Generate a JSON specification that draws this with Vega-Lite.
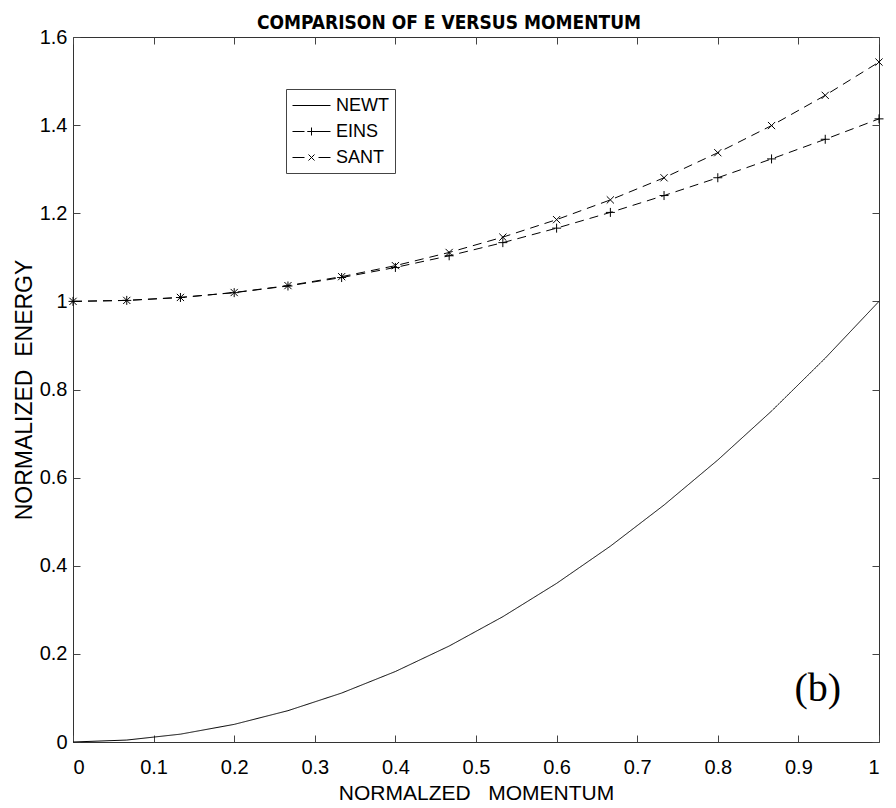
{
  "$schema": "https://vega.github.io/schema/vega-lite/v6.json",
  "width": 806,
  "height": 705,
  "autosize": "none",
  "padding": {"left": 73, "top": 37, "right": 17, "bottom": 66},
  "background": "white",
  "title": {
    "text": "COMPARISON  OF  E  VERSUS  MOMENTUM",
    "font": "Liberation Sans Narrow, DejaVu Sans Condensed, sans-serif",
    "fontWeight": "bold",
    "fontSize": 19,
    "color": "#000",
    "anchor": "middle",
    "dx": -27,
    "offset": -6
  },
  "config": {
    "view": {"stroke": "#333", "strokeWidth": 1},
    "axis": {
      "grid": false,
      "domain": false,
      "tickSize": -7,
      "tickColor": "#444",
      "labelFont": "Liberation Sans",
      "labelFontSize": 20,
      "labelColor": "#000",
      "titleFont": "Liberation Sans",
      "titleFontWeight": "normal",
      "titleColor": "#000"
    }
  },
  "data": {
    "values": [
      {"p": 0, "s": "NEWT", "E": 0},
      {"p": 0.0667, "s": "NEWT", "E": 0.0044},
      {"p": 0.1333, "s": "NEWT", "E": 0.0178},
      {"p": 0.2, "s": "NEWT", "E": 0.04},
      {"p": 0.2667, "s": "NEWT", "E": 0.0711},
      {"p": 0.3333, "s": "NEWT", "E": 0.1111},
      {"p": 0.4, "s": "NEWT", "E": 0.16},
      {"p": 0.4667, "s": "NEWT", "E": 0.2178},
      {"p": 0.5333, "s": "NEWT", "E": 0.2844},
      {"p": 0.6, "s": "NEWT", "E": 0.36},
      {"p": 0.6667, "s": "NEWT", "E": 0.4444},
      {"p": 0.7333, "s": "NEWT", "E": 0.5378},
      {"p": 0.8, "s": "NEWT", "E": 0.64},
      {"p": 0.8667, "s": "NEWT", "E": 0.7511},
      {"p": 0.9333, "s": "NEWT", "E": 0.8711},
      {"p": 1, "s": "NEWT", "E": 1},
      {"p": 0, "s": "EINS", "E": 1},
      {"p": 0.0667, "s": "EINS", "E": 1.0022},
      {"p": 0.1333, "s": "EINS", "E": 1.0088},
      {"p": 0.2, "s": "EINS", "E": 1.0198},
      {"p": 0.2667, "s": "EINS", "E": 1.0349},
      {"p": 0.3333, "s": "EINS", "E": 1.0541},
      {"p": 0.4, "s": "EINS", "E": 1.077},
      {"p": 0.4667, "s": "EINS", "E": 1.1035},
      {"p": 0.5333, "s": "EINS", "E": 1.1333},
      {"p": 0.6, "s": "EINS", "E": 1.1662},
      {"p": 0.6667, "s": "EINS", "E": 1.2019},
      {"p": 0.7333, "s": "EINS", "E": 1.2402},
      {"p": 0.8, "s": "EINS", "E": 1.2806},
      {"p": 0.8667, "s": "EINS", "E": 1.3233},
      {"p": 0.9333, "s": "EINS", "E": 1.3679},
      {"p": 1, "s": "EINS", "E": 1.4142},
      {"p": 0, "s": "SANT", "E": 1},
      {"p": 0.0667, "s": "SANT", "E": 1.0022},
      {"p": 0.1333, "s": "SANT", "E": 1.0089},
      {"p": 0.2, "s": "SANT", "E": 1.0201},
      {"p": 0.2667, "s": "SANT", "E": 1.0358},
      {"p": 0.3333, "s": "SANT", "E": 1.0561},
      {"p": 0.4, "s": "SANT", "E": 1.0811},
      {"p": 0.4667, "s": "SANT", "E": 1.111},
      {"p": 0.5333, "s": "SANT", "E": 1.1458},
      {"p": 0.6, "s": "SANT", "E": 1.1855},
      {"p": 0.6667, "s": "SANT", "E": 1.2303},
      {"p": 0.7333, "s": "SANT", "E": 1.2805},
      {"p": 0.8, "s": "SANT", "E": 1.3374},
      {"p": 0.8667, "s": "SANT", "E": 1.399},
      {"p": 0.9333, "s": "SANT", "E": 1.4676},
      {"p": 1, "s": "SANT", "E": 1.5431}
    ]
  },
  "resolve": {
    "axis": {"x": "independent", "y": "independent"},
    "scale": {"shape": "independent"},
    "legend": {"shape": "independent"}
  },
  "layer": [
    {
      "mark": {"type": "line", "color": "#000", "strokeWidth": 1, "clip": false},
      "encoding": {
        "x": {
          "field": "p", "type": "quantitative",
          "scale": {"domain": [0, 1], "nice": false, "zero": false},
          "axis": {
            "orient": "bottom",
            "values": [0, 0.1, 0.2, 0.3, 0.4, 0.5, 0.6, 0.7, 0.8, 0.9, 1],
            "format": "~g",
            "labelPadding": 22,
            "title": "NORMALZED\u00a0\u00a0 MOMENTUM",
            "titleFontSize": 21,
            "titlePadding": 5
          }
        },
        "y": {
          "field": "E", "type": "quantitative",
          "scale": {"domain": [0, 1.6], "nice": false, "zero": false},
          "axis": {
            "orient": "left",
            "values": [0, 0.2, 0.4, 0.6, 0.8, 1, 1.2, 1.4, 1.6],
            "format": "~g",
            "labelPadding": 13,
            "title": "NORMALIZED\u00a0\u00a0ENERGY",
            "titleFontSize": 23,
            "titlePadding": 3
          }
        },
        "strokeDash": {
          "condition": {"test": "datum.s === 'NEWT'", "value": [1, 0]},
          "value": [9, 6]
        },
        "detail": {"field": "s"}
      }
    },
    {
      "transform": [{"filter": "datum.s !== 'NEWT'"}],
      "mark": {"type": "point", "filled": false, "color": "#000", "strokeWidth": 1, "opacity": 1, "size": 81, "clip": false},
      "encoding": {
        "x": {
          "field": "p", "type": "quantitative",
          "axis": {
            "orient": "top",
            "values": [0, 0.1, 0.2, 0.3, 0.4, 0.5, 0.6, 0.7, 0.8, 0.9, 1],
            "labels": false,
            "title": null
          }
        },
        "y": {
          "field": "E", "type": "quantitative",
          "axis": {
            "orient": "right",
            "values": [0, 0.2, 0.4, 0.6, 0.8, 1, 1.2, 1.4, 1.6],
            "labels": false,
            "title": null
          }
        },
        "shape": {
          "field": "s", "type": "nominal",
          "scale": {
            "domain": ["EINS", "SANT"],
            "range": ["M-1,0L1,0M0,-1L0,1", "M-0.8,-0.8L0.8,0.8M-0.8,0.8L0.8,-0.8"]
          },
          "legend": null
        }
      }
    },
    {
      "transform": [{"filter": "datum.p > 5"}],
      "mark": {"type": "point", "filled": false, "color": "#000", "strokeWidth": 1, "opacity": 1},
      "encoding": {
        "x": {"field": "p", "type": "quantitative", "axis": null},
        "y": {"field": "E", "type": "quantitative", "axis": null},
        "shape": {
          "field": "s", "type": "nominal",
          "scale": {
            "domain": ["NEWT", "EINS", "SANT"],
            "range": [
              "M-1,0L2.8,0",
              "M-1,0L0.2,0M0.5,0L2.8,0M0.9,-0.4L0.9,0.4M0.5,0L1.3,0",
              "M-1,0L0.2,0M1.6,0L2.8,0M0.6,-0.3L1.2,0.3M0.6,0.3L1.2,-0.3"
            ]
          },
          "legend": {
            "title": null,
            "orient": "none",
            "legendX": 213,
            "legendY": 52,
            "padding": 6,
            "strokeColor": "#444",
            "fillColor": "white",
            "symbolSize": 400,
            "symbolStrokeColor": "#000",
            "symbolFillColor": "transparent",
            "symbolStrokeWidth": 1,
            "symbolOpacity": 1,
            "labelFont": "Liberation Sans",
            "labelFontSize": 18,
            "labelColor": "#000",
            "labelOffset": 23,
            "rowPadding": 6
          }
        }
      }
    },
    {
      "data": {"values": [{"p": 0.924, "E": 0.12, "label": "(b)"}]},
      "mark": {"type": "text", "font": "Liberation Serif", "fontSize": 40, "align": "center", "baseline": "middle", "color": "#000"},
      "encoding": {
        "x": {"field": "p", "type": "quantitative", "axis": null},
        "y": {"field": "E", "type": "quantitative", "axis": null},
        "text": {"field": "label"}
      }
    }
  ]
}
